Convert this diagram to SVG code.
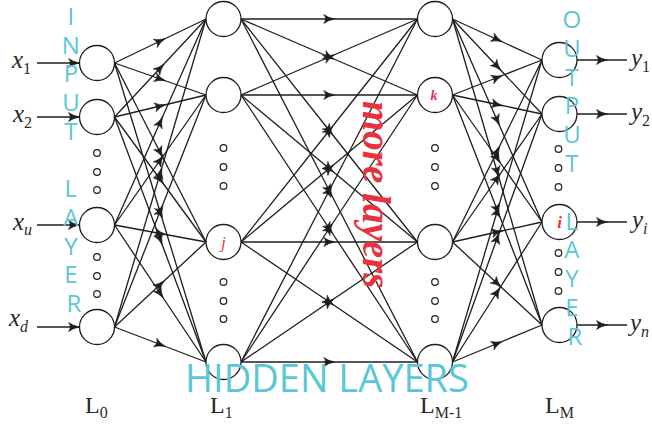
<svg xmlns="http://www.w3.org/2000/svg" width="652" height="424" viewBox="0 0 652 424">
  <style>
    .edge { fill: none; stroke: #1e1e1e; stroke-width: 1.3; marker-mid: url(#tip); }
    .in { fill: none; stroke: #1e1e1e; stroke-width: 1.3; marker-end: url(#tipEnd); }
    .node { fill: #ffffff; stroke: #1e1e1e; stroke-width: 1.3; }
    .dot { fill: #ffffff; stroke: #1e1e1e; stroke-width: 1.2; }
    .var { font-family: "Liberation Serif", "Times New Roman", serif; font-style: italic; font-size: 25px; fill: #2a2a2a; }
    .sub { font-style: normal; font-size: 16px; }
    .isub { font-style: italic; font-size: 16px; }
    .layer { font-family: "Liberation Serif", "Times New Roman", serif; font-size: 24px; fill: #2a2a2a; }
    .cyan { font-family: "Open Sans", "Noto Sans", sans-serif; fill: #5BC7D4; }
    .vert { font-size: 24px; text-anchor: middle; }
    .red { font-family: "Liberation Serif", "Times New Roman", serif; font-style: italic; fill: #E8333F; text-anchor: middle; }
    .note { font-family: "Liberation Serif", "Times New Roman", serif; font-style: italic; font-weight: bold; font-size: 39px; fill: #E8333F; }
  </style>
  <defs>
    <marker id="tip" markerUnits="userSpaceOnUse" viewBox="-7 -6 14 12" markerWidth="14" markerHeight="12" refX="0" refY="0" orient="auto">
      <path d="M5.5,0 Q-1,-1.2 -5.5,-4.5 Q-2,0 -5.5,4.5 Q-1,1.2 5.5,0 Z" fill="#1e1e1e" stroke="#1e1e1e" stroke-width="0.6" stroke-linejoin="round"/>
    </marker>
    <marker id="tipEnd" markerUnits="userSpaceOnUse" viewBox="-7 -6 14 12" markerWidth="14" markerHeight="12" refX="5.5" refY="0" orient="auto">
      <path d="M5.5,0 Q-1,-1.2 -5.5,-4.5 Q-2,0 -5.5,4.5 Q-1,1.2 5.5,0 Z" fill="#1e1e1e" stroke="#1e1e1e" stroke-width="0.6" stroke-linejoin="round"/>
    </marker>
  </defs>

  <rect width="652" height="424" fill="#ffffff"/>

  <!-- connectors: each edge carries its arrowhead at the midpoint -->
  <g id="connectors">
    <!-- inputs -->
    <path class="in" d="M37,63 L79.5,63"/>
    <path class="in" d="M37,117 L79.5,117"/>
    <path class="in" d="M37,225 L79.5,225"/>
    <path class="in" d="M37,327 L79.5,327"/>

    <!-- L0 to L1 -->
    <path class="edge" d="M114.5,63 L160.25,41 L206,19"/>
    <path class="edge" d="M114.5,63 L160.25,79 L206,95"/>
    <path class="edge" d="M114.5,63 L160.25,152.5 L206,242"/>
    <path class="edge" d="M114.5,63 L160.25,212.5 L206,362"/>
    <path class="edge" d="M114.5,117 L160.25,68 L206,19"/>
    <path class="edge" d="M114.5,117 L160.25,106 L206,95"/>
    <path class="edge" d="M114.5,117 L160.25,179.5 L206,242"/>
    <path class="edge" d="M114.5,117 L160.25,239.5 L206,362"/>
    <path class="edge" d="M114.5,225 L160.25,122 L206,19"/>
    <path class="edge" d="M114.5,225 L160.25,160 L206,95"/>
    <path class="edge" d="M114.5,225 L160.25,233.5 L206,242"/>
    <path class="edge" d="M114.5,225 L160.25,293.5 L206,362"/>
    <path class="edge" d="M114.5,327 L160.25,173 L206,19"/>
    <path class="edge" d="M114.5,327 L160.25,211 L206,95"/>
    <path class="edge" d="M114.5,327 L160.25,284.5 L206,242"/>
    <path class="edge" d="M114.5,327 L160.25,344.5 L206,362"/>

    <!-- L1 to L(M-1) -->
    <path class="edge" d="M241,19 L329.25,19 L417.5,19"/>
    <path class="edge" d="M241,19 L329.25,57 L417.5,95"/>
    <path class="edge" d="M241,19 L329.25,130.5 L417.5,242"/>
    <path class="edge" d="M241,19 L329.25,190.5 L417.5,362"/>
    <path class="edge" d="M241,95 L329.25,57 L417.5,19"/>
    <path class="edge" d="M241,95 L329.25,95 L417.5,95"/>
    <path class="edge" d="M241,95 L329.25,168.5 L417.5,242"/>
    <path class="edge" d="M241,95 L329.25,228.5 L417.5,362"/>
    <path class="edge" d="M241,242 L329.25,130.5 L417.5,19"/>
    <path class="edge" d="M241,242 L329.25,168.5 L417.5,95"/>
    <path class="edge" d="M241,242 L329.25,242 L417.5,242"/>
    <path class="edge" d="M241,242 L329.25,302 L417.5,362"/>
    <path class="edge" d="M241,362 L329.25,190.5 L417.5,19"/>
    <path class="edge" d="M241,362 L329.25,228.5 L417.5,95"/>
    <path class="edge" d="M241,362 L329.25,302 L417.5,242"/>
    <path class="edge" d="M241,362 L329.25,362 L417.5,362"/>

    <!-- L(M-1) to LM -->
    <path class="edge" d="M452.5,19 L497.25,39.5 L542,60"/>
    <path class="edge" d="M452.5,19 L497.25,66.5 L542,114"/>
    <path class="edge" d="M452.5,19 L497.25,120.5 L542,222"/>
    <path class="edge" d="M452.5,19 L497.25,172 L542,325"/>
    <path class="edge" d="M452.5,95 L497.25,77.5 L542,60"/>
    <path class="edge" d="M452.5,95 L497.25,104.5 L542,114"/>
    <path class="edge" d="M452.5,95 L497.25,158.5 L542,222"/>
    <path class="edge" d="M452.5,95 L497.25,210 L542,325"/>
    <path class="edge" d="M452.5,242 L497.25,151 L542,60"/>
    <path class="edge" d="M452.5,242 L497.25,178 L542,114"/>
    <path class="edge" d="M452.5,242 L497.25,232 L542,222"/>
    <path class="edge" d="M452.5,242 L497.25,283.5 L542,325"/>
    <path class="edge" d="M452.5,362 L497.25,211 L542,60"/>
    <path class="edge" d="M452.5,362 L497.25,238 L542,114"/>
    <path class="edge" d="M452.5,362 L497.25,292 L542,222"/>
    <path class="edge" d="M452.5,362 L497.25,343.5 L542,325"/>

    <!-- outputs -->
    <path class="edge" d="M577,60 L602,60 L627,60"/>
    <path class="edge" d="M577,114 L602,114 L627,114"/>
    <path class="edge" d="M577,222 L602,222 L627,222"/>
    <path class="edge" d="M577,325 L602,325 L627,325"/>
  </g>

  <!-- input layer L0 -->
  <g id="in-x1"><circle class="node" cx="97" cy="63" r="17.5"/></g>
  <g id="in-x2"><circle class="node" cx="97" cy="117" r="17.5"/></g>
  <g id="in-xu"><circle class="node" cx="97" cy="225" r="17.5"/></g>
  <g id="in-xd"><circle class="node" cx="97" cy="327" r="17.5"/></g>

  <!-- first hidden layer L1 -->
  <g id="h1-1"><circle class="node" cx="223.5" cy="19" r="17.5"/></g>
  <g id="h1-2"><circle class="node" cx="223.5" cy="95" r="17.5"/></g>
  <g id="h1-j"><circle class="node" cx="223.5" cy="242" r="17.5"/>
    <text class="red" x="223.5" y="248" font-size="16">j</text></g>
  <g id="h1-last"><circle class="node" cx="223.5" cy="362" r="17.5"/></g>

  <!-- last hidden layer L(M-1) -->
  <g id="hm-1"><circle class="node" cx="435" cy="19" r="17.5"/></g>
  <g id="hm-k"><circle class="node" cx="435" cy="95" r="17.5"/>
    <text class="red" x="434" y="100" font-size="14" font-weight="bold">k</text></g>
  <g id="hm-3"><circle class="node" cx="435" cy="242" r="17.5"/></g>
  <g id="hm-last"><circle class="node" cx="435" cy="362" r="17.5"/></g>

  <!-- output layer LM -->
  <g id="out-y1"><circle class="node" cx="559.5" cy="60" r="17.5"/></g>
  <g id="out-y2"><circle class="node" cx="559.5" cy="114" r="17.5"/></g>
  <g id="out-yi"><circle class="node" cx="559.5" cy="222" r="17.5"/>
    <text class="red" x="559.5" y="228" font-size="17" font-weight="bold">i</text></g>
  <g id="out-yn"><circle class="node" cx="559.5" cy="325" r="17.5"/></g>

  <!-- ellipsis dots -->
  <g id="ellipses">
    <circle class="dot" cx="97" cy="153" r="3.3"/>
    <circle class="dot" cx="97" cy="172" r="3.3"/>
    <circle class="dot" cx="97" cy="190" r="3.3"/>
    <circle class="dot" cx="97" cy="257" r="3.3"/>
    <circle class="dot" cx="97" cy="276" r="3.3"/>
    <circle class="dot" cx="97" cy="294" r="3.3"/>

    <circle class="dot" cx="223.5" cy="148" r="3.3"/>
    <circle class="dot" cx="223.5" cy="167" r="3.3"/>
    <circle class="dot" cx="223.5" cy="186" r="3.3"/>
    <circle class="dot" cx="223.5" cy="282" r="3.3"/>
    <circle class="dot" cx="223.5" cy="301" r="3.3"/>
    <circle class="dot" cx="223.5" cy="319" r="3.3"/>

    <circle class="dot" cx="435" cy="148" r="3.3"/>
    <circle class="dot" cx="435" cy="167" r="3.3"/>
    <circle class="dot" cx="435" cy="186" r="3.3"/>
    <circle class="dot" cx="435" cy="282" r="3.3"/>
    <circle class="dot" cx="435" cy="301" r="3.3"/>
    <circle class="dot" cx="435" cy="319" r="3.3"/>

    <circle class="dot" cx="558.5" cy="149" r="3.3"/>
    <circle class="dot" cx="558.5" cy="168" r="3.3"/>
    <circle class="dot" cx="558.5" cy="187" r="3.3"/>
    <circle class="dot" cx="558.5" cy="253" r="3.3"/>
    <circle class="dot" cx="558.5" cy="272" r="3.3"/>
    <circle class="dot" cx="558.5" cy="291" r="3.3"/>
  </g>

  <!-- input and output variable names -->
  <g id="labels">
    <text class="var" x="12" y="68">x<tspan class="sub" dy="6">1</tspan></text>
    <text class="var" x="13" y="122">x<tspan class="sub" dy="6">2</tspan></text>
    <text class="var" x="13" y="230">x<tspan class="isub" dy="5">u</tspan></text>
    <text class="var" x="9" y="326">x<tspan class="isub" dy="6">d</tspan></text>

    <text class="var" x="631" y="66">y<tspan class="sub" dy="6">1</tspan></text>
    <text class="var" x="631" y="120">y<tspan class="sub" dy="6">2</tspan></text>
    <text class="var" x="632" y="228">y<tspan class="isub" dy="6">i</tspan></text>
    <text class="var" x="630" y="331">y<tspan class="isub" dy="6">n</tspan></text>

    <text class="layer" x="85" y="413">L<tspan class="sub" dy="5">0</tspan></text>
    <text class="layer" x="210" y="413">L<tspan class="sub" dy="5">1</tspan></text>
    <text class="layer" x="420" y="413">L<tspan class="sub" dy="5">M-1</tspan></text>
    <text class="layer" x="545" y="413">L<tspan class="sub" dy="5">M</tspan></text>
  </g>

  <!-- layer captions -->
  <g id="captions">
    <text class="cyan vert">
      <tspan x="74" y="25">I</tspan>
      <tspan x="74" y="53.7">N</tspan>
      <tspan x="74" y="82.4">P</tspan>
      <tspan x="74" y="111">U</tspan>
      <tspan x="74" y="139.8">T</tspan>
      <tspan x="74" y="197">L</tspan>
      <tspan x="74" y="226">A</tspan>
      <tspan x="74" y="254.6">Y</tspan>
      <tspan x="74" y="283.3">E</tspan>
      <tspan x="74" y="312">R</tspan>
    </text>
    <text class="cyan vert">
      <tspan x="575" y="28">O</tspan>
      <tspan x="575" y="56.8">U</tspan>
      <tspan x="575" y="85.6">T</tspan>
      <tspan x="575" y="114.4">P</tspan>
      <tspan x="575" y="143.2">U</tspan>
      <tspan x="575" y="172">T</tspan>
      <tspan x="575" y="229.6">L</tspan>
      <tspan x="575" y="258.4">A</tspan>
      <tspan x="575" y="287.2">Y</tspan>
      <tspan x="575" y="316">E</tspan>
      <tspan x="575" y="344.8">R</tspan>
    </text>
    <text class="cyan" x="185" y="392" font-size="38">HIDDEN LAYERS</text>
    <text class="note" transform="translate(363,101) rotate(90)">more layers</text>
  </g>
</svg>
